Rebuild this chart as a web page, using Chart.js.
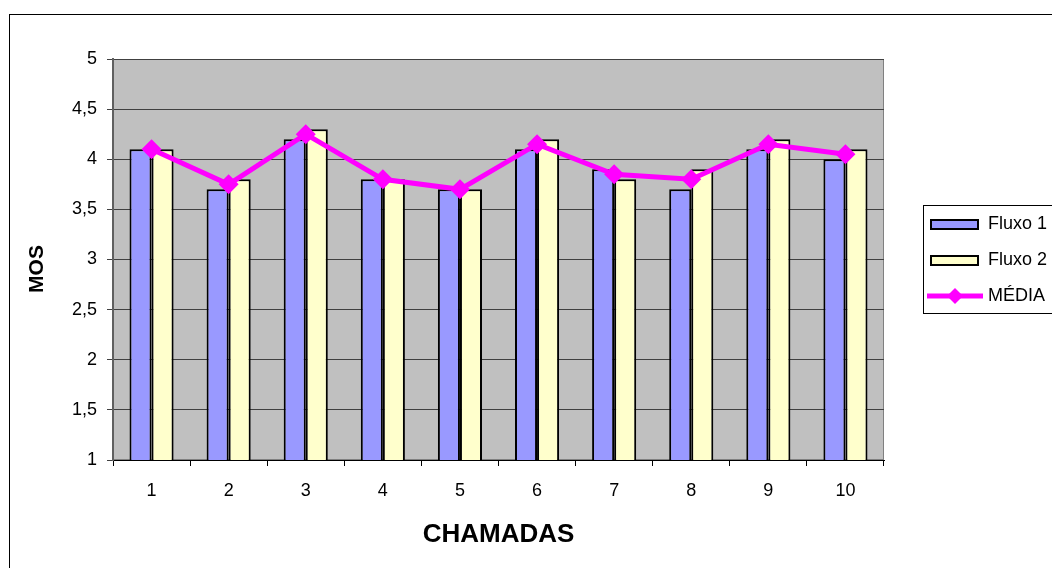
<!DOCTYPE html>
<html>
<head>
<meta charset="utf-8">
<script src="https://cdn.jsdelivr.net/npm/chart.js@4/dist/chart.umd.min.js"></script>
<style>
    html, body { margin: 0; padding: 0; background: #fff; }
    #wrap { width: 1052px; height: 568px; position: relative; }
</style>
</head>
<body>
<div id="wrap"><canvas id="mosChart"></canvas></div>
<script>
// ===================================
// DATA
// ===================================
const chamadas = ['1', '2', '3', '4', '5', '6', '7', '8', '9', '10'];
const fluxo1 = [4.1, 3.7, 4.2, 3.8, 3.7, 4.1, 3.9, 3.7, 4.1, 4.0];
const fluxo2 = [4.1, 3.8, 4.3, 3.8, 3.7, 4.2, 3.8, 3.9, 4.2, 4.1];
const media = [4.1, 3.75, 4.25, 3.8, 3.7, 4.15, 3.85, 3.8, 4.15, 4.05];
const yTicks = [1, 1.5, 2, 2.5, 3, 3.5, 4, 4.5, 5];

const colors = {
    fluxo1: '#9999FF',
    fluxo2: '#FFFFCC',
    media: '#FF00FF',
    plotBg: '#C0C0C0',
    grid: '#404040',
};

const FONT = "'Liberation Sans', Arial, sans-serif";

// gray plot background + outer frame
const backgroundPlugin = {
    id: 'plotBackground',
    beforeDraw(chart) {
        const { ctx, chartArea: a } = chart;
        ctx.save();
        ctx.strokeStyle = '#000';
        ctx.lineWidth = 1;
        ctx.strokeRect(9.5, 14.5, 1100, 600);
        ctx.fillStyle = colors.plotBg;
        ctx.fillRect(a.left, a.top, a.right - a.left, a.bottom - a.top);
        ctx.strokeStyle = '#808080';
        ctx.strokeRect(a.left + 0.5, a.top + 0.5, a.right - a.left - 1, a.bottom - a.top - 1);
        ctx.restore();
    }
};

// legend box on the right + rotated y title, drawn like the original
const legendPlugin = {
    id: 'boxLegend',
    afterDraw(chart) {
        const { ctx } = chart;
        const x = 923.5, y = 205.5;
        ctx.save();

        // y axis title
        ctx.save();
        ctx.translate(37, 269);
        ctx.rotate(-Math.PI / 2);
        ctx.font = 'bold 21px ' + FONT;
        ctx.textAlign = 'center';
        ctx.textBaseline = 'middle';
        ctx.fillStyle = '#000';
        ctx.fillText('MOS', 0, 0);
        ctx.restore();

        ctx.strokeStyle = '#000';
        ctx.lineWidth = 1;
        ctx.strokeRect(x, y, 200, 108);
        ctx.font = '18px ' + FONT;
        ctx.textBaseline = 'middle';
        ctx.fillStyle = '#000';

        const rows = [224, 260, 296];
        chart.data.datasets.forEach((ds, i) => {
            const cy = rows[i];
            if (ds.type === 'line') {
                ctx.strokeStyle = ds.borderColor;
                ctx.lineWidth = 5;
                ctx.beginPath();
                ctx.moveTo(927, cy);
                ctx.lineTo(983, cy);
                ctx.stroke();
                ctx.fillStyle = ds.borderColor;
                ctx.beginPath();
                ctx.moveTo(955, cy - 8);
                ctx.lineTo(963, cy);
                ctx.lineTo(955, cy + 8);
                ctx.lineTo(947, cy);
                ctx.closePath();
                ctx.fill();
            } else {
                ctx.fillStyle = ds.backgroundColor;
                ctx.fillRect(930, cy - 5, 49, 11);
                ctx.strokeStyle = '#000';
                ctx.lineWidth = 2;
                ctx.strokeRect(931, cy - 4, 47, 9);
            }
            ctx.fillStyle = '#000';
            ctx.fillText(ds.label, 988, cy);
        });
        ctx.restore();
    }
};

document.addEventListener('DOMContentLoaded', () => {
    Chart.defaults.font.family = FONT;
    Chart.defaults.color = '#000';

    new Chart(document.getElementById('mosChart').getContext('2d'), {
        type: 'bar',
        data: {
            labels: chamadas,
            datasets: [
                {
                    label: 'Fluxo 1',
                    data: fluxo1,
                    backgroundColor: colors.fluxo1,
                    borderColor: '#000',
                    borderWidth: 2,
                    order: 2
                },
                {
                    label: 'Fluxo 2',
                    data: fluxo2,
                    backgroundColor: colors.fluxo2,
                    borderColor: '#000',
                    borderWidth: 2,
                    order: 2
                },
                {
                    type: 'line',
                    label: 'MÉDIA',
                    data: media,
                    borderColor: colors.media,
                    backgroundColor: colors.media,
                    borderWidth: 5,
                    pointStyle: 'rectRot',
                    pointRadius: 10,
                    pointBorderWidth: 0,
                    pointBackgroundColor: colors.media,
                    tension: 0,
                    order: 1
                }
            ]
        },
        options: {
            responsive: true,
            maintainAspectRatio: false,
            animation: false,
            layout: { padding: { top: 59, right: 168, left: 0, bottom: 0 } },
            datasets: {
                bar: { categoryPercentage: 0.572, barPercentage: 1.0 }
            },
            scales: {
                x: {
                    grid: { display: true, drawOnChartArea: false, drawTicks: true, tickLength: 6, color: '#000', offset: true },
                    border: { color: '#000', width: 1 },
                    ticks: { font: { size: 18 }, padding: 14, color: '#000' },
                    title: { display: true, text: 'CHAMADAS', font: { size: 26, weight: 'bold', lineHeight: 1.2 }, padding: { top: 0, bottom: 18 }, color: '#000' },
                    afterFit(scale) { scale.height = 108; }
                },
                y: {
                    min: 1,
                    max: 5,
                    afterBuildTicks(scale) { scale.ticks = yTicks.map(v => ({ value: v })); },
                    grid: { color: colors.grid, tickLength: 6, lineWidth: 1 },
                    border: { color: '#606060', width: 2 },
                    ticks: {
                        font: { size: 18 },
                        padding: 10,
                        color: '#000',
                        callback: v => String(v).replace('.', ',')
                    },
                    title: { display: false, text: 'MOS' },
                    afterFit(scale) { scale.width = 113; }
                }
            },
            plugins: {
                legend: { display: false },
                tooltip: { enabled: false }
            }
        },
        plugins: [backgroundPlugin, legendPlugin]
    });
});
</script>
</body>
</html>
